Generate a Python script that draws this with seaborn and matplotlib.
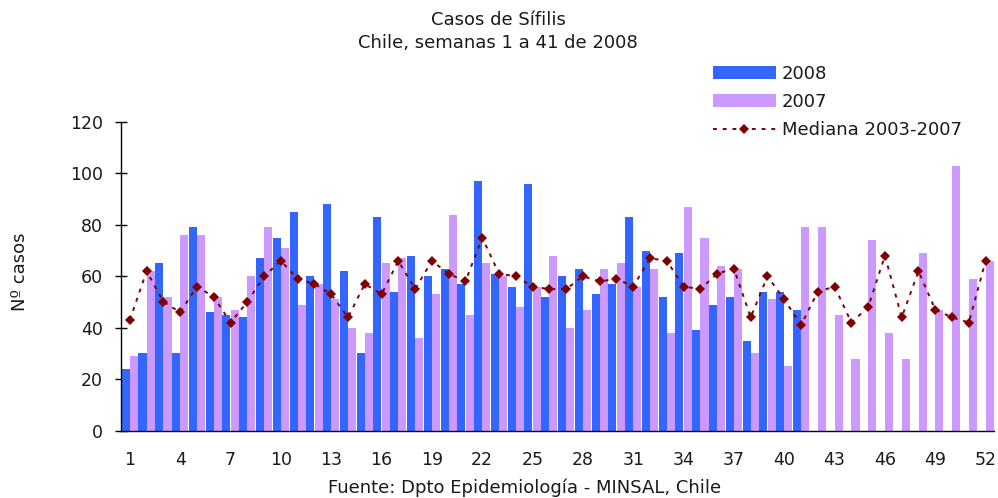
import numpy as np
import pandas as pd
import matplotlib
matplotlib.use('Agg')
import matplotlib.pyplot as plt
import seaborn as sns

# semanas epidemiologicas
semanas = list(range(1, 53))

# casos 2008 (semanas 1 a 41)
casos_2008 = [24, 30, 65, 30, 79, 46, 45, 44, 67, 75, 85, 60, 88, 62, 30, 83, 54, 68, 60, 63,
              57, 97, 61, 56, 96, 52, 60, 63, 53, 57, 83, 70, 52, 69, 39, 49, 52, 35, 54, 54, 47]

# casos 2007 (semanas 1 a 52)
casos_2007 = [29, 62, 52, 76, 76, 52, 47, 60, 79, 71, 49, 57, 51, 40, 38, 65, 67, 36, 53, 84,
              45, 65, 60, 48, 56, 68, 40, 47, 63, 65, 56, 63, 38, 87, 75, 64, 63, 30, 51, 25,
              79, 79, 45, 28, 74, 38, 28, 69, 47, 103, 59, 66]

# mediana 2003-2007
mediana = [43, 62, 50, 46, 56, 52, 42, 50, 60, 66, 59, 57, 53, 44, 57, 53, 66, 55, 66, 61,
           58, 75, 61, 60, 56, 55, 55, 60, 58, 59, 56, 67, 66, 56, 55, 61, 63, 44, 60, 51,
           41, 54, 56, 42, 48, 68, 44, 62, 47, 44, 42, 66]

etiquetas_x = [str(s) for s in range(1, 53, 3)]

colores = {'2008': '#3366FF', '2007': '#CC99FF'}
color_mediana = '#800000'

df = pd.concat([
    pd.DataFrame({'semana': semanas[:len(casos_2008)], 'casos': casos_2008, 'serie': '2008'}),
    pd.DataFrame({'semana': semanas, 'casos': casos_2007, 'serie': '2007'}),
], ignore_index=True)

sns.set_theme(style='white')
plt.rcParams['font.family'] = ['DejaVu Sans']
plt.rcParams['text.color'] = '#1a1a1a'

fig = plt.figure(figsize=(9.98, 4.98), dpi=100)
ax = fig.add_axes([0.1217, 0.1355, 0.8743, 0.6195])

sns.barplot(data=df, x='semana', y='casos', hue='serie', hue_order=['2008', '2007'],
            palette=colores, native_scale=True, width=0.98, gap=0.02,
            saturation=1, errorbar=None, linewidth=0, ax=ax)
sns.lineplot(x=semanas, y=mediana, color=color_mediana, marker='D', markersize=5,
             markeredgewidth=0, linestyle=(0, (2, 3)), linewidth=1.4,
             label='Mediana 2003-2007', ax=ax)

ax.set_xlim(0.5, 52.5)
ax.set_ylim(0, 120)
ax.set_yticks(range(0, 121, 20))
ax.set_xticks(range(1, 53, 3))
ax.set_xticklabels(etiquetas_x)
ax.set_xticks(np.arange(0.5, 53, 1), minor=True)
ax.set_xlabel('')
ax.set_ylabel('')

ax.tick_params(axis='x', which='major', length=0, pad=15, labelsize=12.5, colors='#1a1a1a')
ax.tick_params(axis='x', which='minor', direction='out', length=5, width=1, color='black')
ax.tick_params(axis='y', direction='inout', length=9, width=1, pad=9,
               labelsize=12.5, color='black', labelcolor='#1a1a1a', left=True)

sns.despine(ax=ax)
for lado in ['left', 'bottom']:
    ax.spines[lado].set_color('black')
    ax.spines[lado].set_linewidth(1)

handles, labels = ax.get_legend_handles_labels()
ax.legend(handles, labels, loc='upper left', bbox_to_anchor=(0.714, 0.8695),
          bbox_transform=fig.transFigure, frameon=False, fontsize=13,
          handlelength=3.5, handleheight=0.7, handletextpad=0.35,
          labelspacing=0.55, borderpad=0, borderaxespad=0)

fig.text(0.499, 1 - 20 / 498, 'Casos de Sífilis', ha='center', va='center', fontsize=13)
fig.text(0.499, 1 - 43 / 498, 'Chile, semanas 1 a 41 de 2008', ha='center', va='center', fontsize=13)
fig.text(20 / 998, 0.454, 'Nº casos', rotation=90, ha='center', va='center', fontsize=13)
fig.text(525 / 998, 1 - 488 / 498, 'Fuente: Dpto Epidemiología - MINSAL, Chile',
         ha='center', va='center', fontsize=13)

fig.savefig('out.png', dpi=100)
